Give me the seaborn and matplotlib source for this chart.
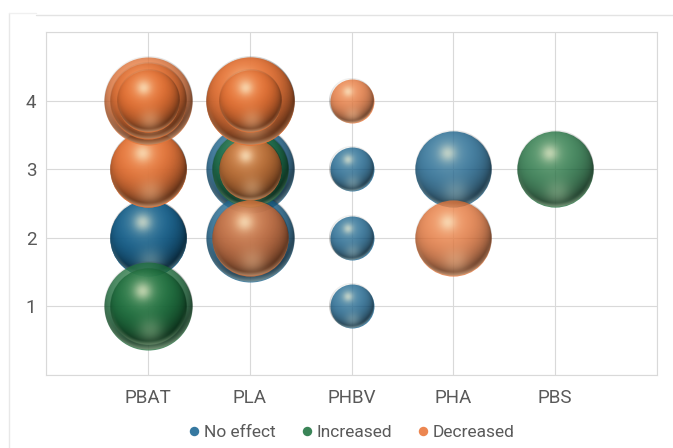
import numpy as np
import pandas as pd
import matplotlib
matplotlib.use("Agg")
import matplotlib.pyplot as plt
from matplotlib.lines import Line2D
import seaborn as sns

# Materials on the x axis and the effect categories
materials = ["PBAT", "PLA", "PHBV", "PHA", "PBS"]
effects = ["No effect", "Increased", "Decreased"]

# One row per bubble, in drawing order (later rows sit in front)
bubble_material = ["PBAT", "PBAT", "PLA", "PLA", "PHBV", "PHBV", "PHBV", "PHA",
                   "PBAT", "PBAT", "PLA", "PBS",
                   "PBAT", "PBAT", "PBAT", "PBAT", "PBAT", "PLA", "PLA",
                   "PLA", "PLA", "PLA", "PHBV", "PHA"]
bubble_effect = ["No effect"] * 8 + ["Increased"] * 4 + ["Decreased"] * 12
bubble_level = [2, 2, 3, 2, 3, 2, 1, 3,
                1, 1, 3, 3,
                3, 3, 4, 4, 4, 2, 3,
                4, 4, 4, 4, 2]
bubble_weight = [3, 3, 4, 4, 1, 1, 1, 3,
                 4, 3, 3, 3,
                 3, 3, 4, 3, 2, 3, 2,
                 4, 4, 2, 1, 3]

y_tick_labels = ["", "1", "2", "3", "4", ""]

palette = {"No effect": "#12608F", "Increased": "#176E3A", "Decreased": "#E97132"}
TEXT = "#595959"
GRID = "#D9D9D9"

df = pd.DataFrame({
    "material": bubble_material,
    "effect": bubble_effect,
    "level": bubble_level,
    "weight": bubble_weight,
})
df["xpos"] = df["material"].map({m: i + 1 for i, m in enumerate(materials)})

sns.set_theme(style="white")
plt.rcParams["font.family"] = ["Roboto", "DejaVu Sans"]

DPI = 100
fig = plt.figure(figsize=(6.73, 4.48), dpi=DPI)
ax = fig.add_axes([46 / 673, (448 - 375) / 448, 611 / 673, 343 / 448])

# bubble area in points^2, proportional to the weight
unit_area = 1004.0
size_map = {w: unit_area * w for w in sorted(set(bubble_weight))}


def sphere_overlay(n=256):
    """Grey/alpha layer that gives a flat disc a lit, glossy sphere look."""
    t = np.linspace(-1, 1, n)
    u, v = np.meshgrid(t, -t)
    r2 = u ** 2 + v ** 2
    r = np.sqrt(r2)
    z = np.sqrt(np.clip(1 - r2, 0, 1))
    L = np.array([-0.2, 0.5, 0.85])
    L = L / np.linalg.norm(L)
    d = np.clip(u * L[0] + v * L[1] + z * L[2], 0, 1)
    dark = 0.5 * (1 - d) ** 1.6
    spec = (0.42 * np.exp(-((u + 0.15) ** 2 + (v - 0.4) ** 2) / (2 * 0.15 ** 2))
            + 0.22 * np.exp(-((u + 0.15) ** 2 + (v - 0.4) ** 2) / (2 * 0.32 ** 2)))
    refl = 0.22 * np.exp(-((u - 0.05) ** 2 + (v + 0.62) ** 2) / (2 * 0.24 ** 2))
    rim = 0.3 * np.clip((r - 0.9) / 0.1, 0, 1) * np.clip(-v, 0, 1)
    aw = np.clip(spec + refl + rim, 0, 0.85)
    ad = dark * (1 - aw)
    A = 1 - (1 - ad) * (1 - aw)
    g = np.where(A > 1e-6, aw / np.maximum(A, 1e-6), 0)
    edge = np.clip((1 - r) * n / 2, 0, 1)
    A = A * edge
    img = np.zeros((n, n, 4))
    img[..., 0] = np.clip(g * 1.0, 0, 1)
    img[..., 1] = np.clip(g * 0.98, 0, 1)
    img[..., 2] = np.clip(g * 0.85, 0, 1)
    img[..., 3] = A
    return img


shade = sphere_overlay()

ax.set_xlim(0, 6)
ax.set_ylim(0, 5)
fig.canvas.draw()
bbox = ax.get_window_extent()
px_x = bbox.width / 6.0
px_y = bbox.height / 5.0

for i in range(len(df)):
    row = df.iloc[[i]]
    z = 3 + 2 * i
    sns.scatterplot(data=row, x="xpos", y="level", hue="effect", size="weight",
                    hue_order=effects, palette=palette, sizes=size_map,
                    alpha=0.78, linewidth=0, legend=False, ax=ax, zorder=z)
    r_px = np.sqrt(size_map[row["weight"].iloc[0]]) / 2 * DPI / 72
    x0 = row["xpos"].iloc[0]
    y0 = row["level"].iloc[0]
    rx, ry = r_px / px_x, r_px / px_y
    ax.imshow(shade, extent=[x0 - rx, x0 + rx, y0 - ry, y0 + ry],
              aspect="auto", interpolation="bilinear", zorder=z + 1)

ax.set_xlim(0, 6)
ax.set_ylim(0, 5)
ax.set_xticks(range(0, 7))
ax.set_xticklabels([""] + materials + [""])
ax.set_yticks(range(0, 6))
ax.set_yticklabels(y_tick_labels)
ax.set_xlabel("")
ax.set_ylabel("")
ax.grid(True, color=GRID, linewidth=0.8)
ax.set_axisbelow(True)
for s in ax.spines.values():
    s.set_color(GRID)
    s.set_linewidth(0.8)
ax.tick_params(axis="x", length=0, pad=10, labelsize=13.5, labelcolor=TEXT)
ax.tick_params(axis="y", length=0, pad=7, labelsize=13.5, labelcolor=TEXT)

handles = [Line2D([0], [0], marker="o", linestyle="", markersize=6.8,
                  markerfacecolor=palette[e], markeredgewidth=0, alpha=0.85)
           for e in effects]
leg = fig.legend(handles, effects, loc="center", ncol=3,
                 bbox_to_anchor=(350 / 673, 1 - 432 / 448), frameon=False,
                 handletextpad=0.05, columnspacing=1.3, handlelength=1.0,
                 fontsize=12.5, labelcolor=TEXT)

# outer chart-area border
fig.add_artist(Line2D([9 / 673, 9 / 673], [0, 1 - 13 / 448],
                      transform=fig.transFigure, color="#E8E8E8", linewidth=1))
fig.add_artist(Line2D([9 / 673, 36 / 673], [1 - 13 / 448, 1 - 13 / 448],
                      transform=fig.transFigure, color="#F0F0F0", linewidth=1))
fig.add_artist(Line2D([36 / 673, 1], [1 - 15 / 448, 1 - 15 / 448],
                      transform=fig.transFigure, color="#E3E3E3", linewidth=1))

fig.savefig("out.png", dpi=DPI)
